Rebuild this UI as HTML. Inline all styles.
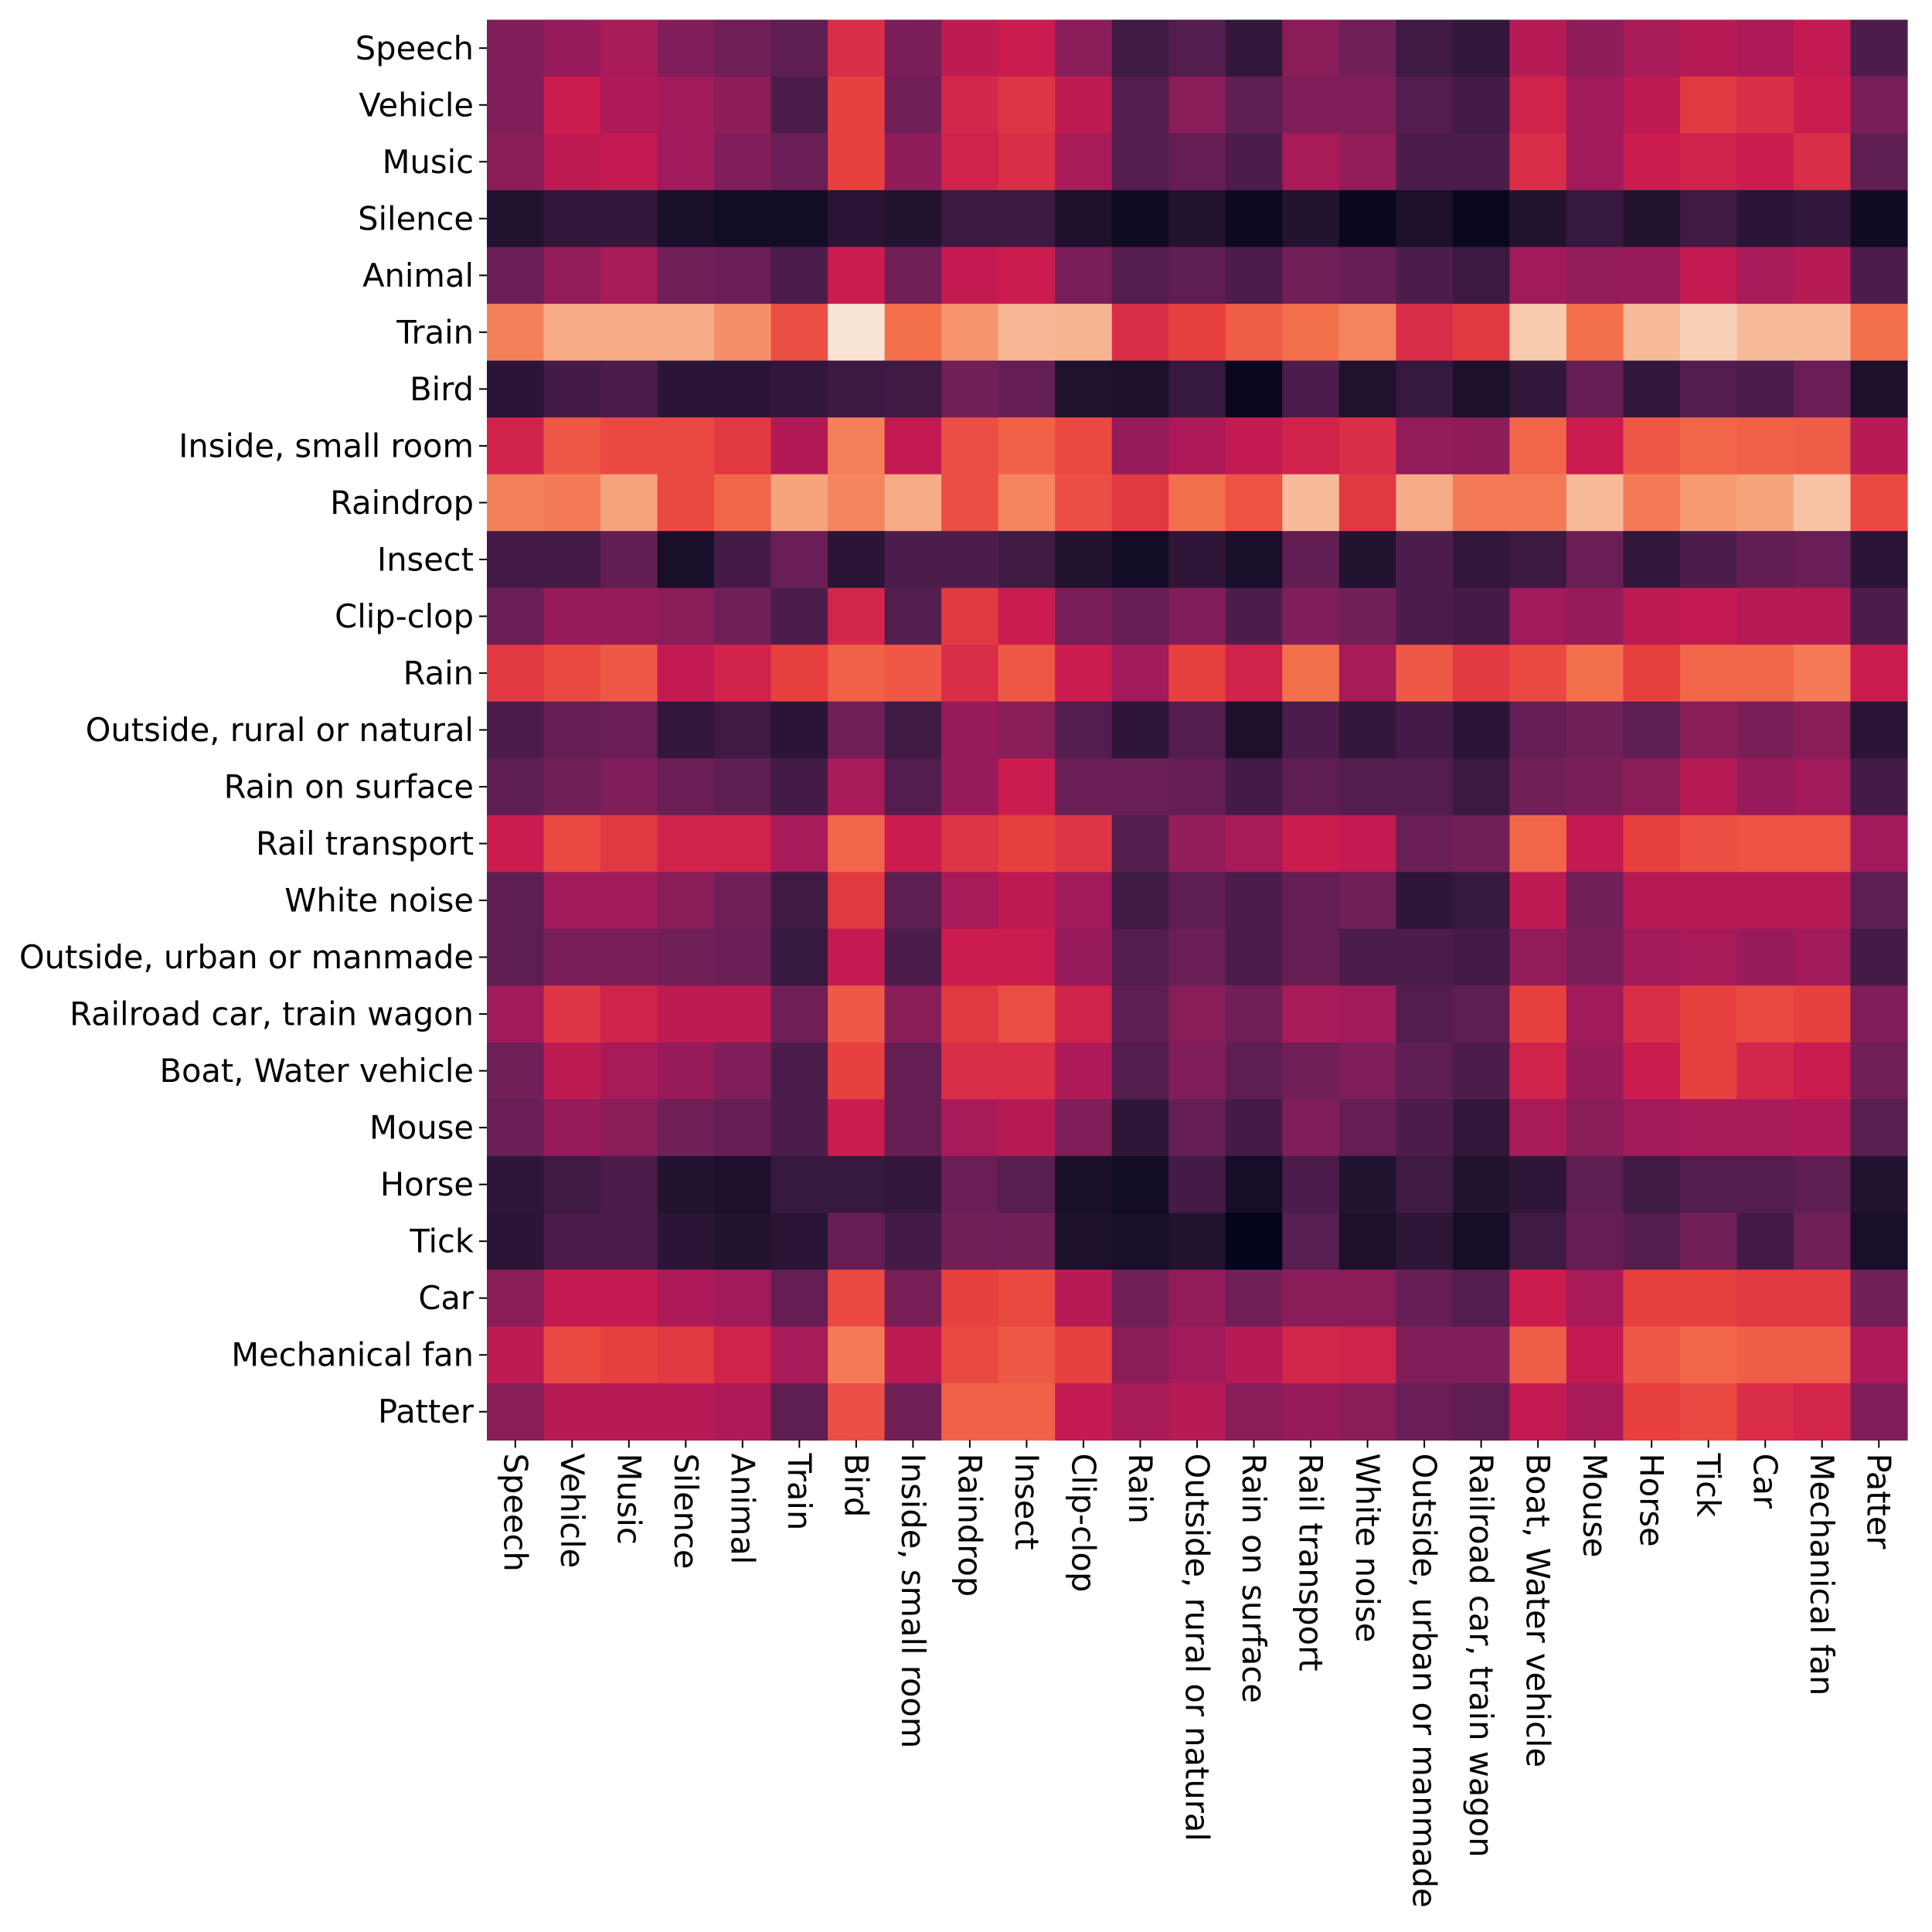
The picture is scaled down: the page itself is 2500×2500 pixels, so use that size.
<!DOCTYPE html>
<html><head><meta charset="utf-8"><style>
html,body{margin:0;padding:0;background:#fff;}
svg{display:block;}
text{font-family:"DejaVu Sans","Liberation Sans",sans-serif;font-size:41.6px;fill:#000;}
</style></head><body>
<svg id="chart" width="2500" height="2500" xmlns="http://www.w3.org/2000/svg">
<g id="cells"></g>
<g id="ylab"></g>
<g id="xlab"></g>
</svg>
<script>
const labels = ["Speech","Vehicle","Music","Silence","Animal","Train","Bird","Inside, small room","Raindrop","Insect","Clip-clop","Rain","Outside, rural or natural","Rain on surface","Rail transport","White noise","Outside, urban or manmade","Railroad car, train wagon","Boat, Water vehicle","Mouse","Horse","Tick","Car","Mechanical fan","Patter"];
const values = [
[.33,.38,.42,.33,.3,.25,.55,.32,.47,.5,.35,.17,.22,.14,.35,.3,.17,.14,.45,.36,.42,.45,.43,.48,.2],
[.33,.5,.43,.4,.36,.2,.6,.3,.53,.57,.47,.22,.35,.25,.33,.33,.22,.18,.52,.4,.47,.58,.55,.5,.32],
[.35,.47,.48,.4,.33,.28,.6,.36,.52,.55,.42,.22,.27,.2,.42,.37,.2,.2,.55,.4,.5,.52,.5,.55,.25],
[.1,.14,.14,.07,.05,.05,.12,.1,.16,.16,.08,.04,.1,.03,.1,.02,.08,.02,.1,.15,.1,.17,.12,.14,.04],
[.28,.37,.42,.3,.28,.2,.5,.3,.48,.5,.32,.22,.25,.2,.3,.27,.2,.16,.4,.37,.38,.48,.42,.45,.2],
[.73,.82,.82,.82,.76,.63,.98,.7,.77,.85,.84,.55,.6,.66,.7,.74,.55,.58,.9,.7,.86,.92,.86,.86,.7],
[.12,.18,.2,.12,.12,.14,.16,.17,.3,.27,.09,.08,.15,.02,.2,.09,.15,.08,.14,.27,.14,.22,.2,.28,.08],
[.52,.65,.62,.62,.58,.44,.73,.48,.63,.67,.62,.38,.43,.48,.52,.55,.37,.36,.68,.5,.65,.68,.67,.66,.45],
[.73,.72,.8,.62,.68,.8,.74,.82,.63,.74,.63,.58,.7,.64,.86,.58,.82,.72,.72,.86,.72,.78,.8,.88,.62],
[.18,.18,.26,.07,.18,.28,.12,.2,.2,.17,.1,.05,.13,.07,.26,.1,.2,.14,.16,.28,.14,.2,.26,.28,.12],
[.28,.38,.38,.35,.3,.2,.53,.22,.58,.5,.32,.27,.33,.2,.33,.3,.2,.18,.4,.38,.47,.48,.45,.45,.2],
[.58,.62,.65,.48,.52,.6,.67,.65,.55,.65,.5,.4,.6,.52,.7,.42,.65,.58,.62,.7,.6,.68,.68,.72,.5],
[.2,.27,.28,.14,.17,.12,.3,.17,.38,.35,.22,.13,.22,.08,.2,.14,.18,.12,.27,.3,.25,.35,.32,.35,.12],
[.25,.3,.33,.28,.25,.18,.42,.22,.38,.5,.28,.28,.27,.18,.25,.22,.22,.16,.3,.32,.35,.45,.38,.4,.18],
[.5,.62,.58,.52,.52,.42,.68,.5,.57,.6,.57,.22,.37,.42,.5,.48,.28,.3,.68,.48,.6,.63,.64,.64,.4],
[.25,.4,.4,.35,.3,.17,.58,.25,.42,.47,.4,.17,.25,.2,.27,.3,.13,.15,.47,.3,.45,.45,.45,.45,.25],
[.25,.32,.32,.3,.28,.15,.48,.2,.5,.5,.38,.22,.28,.2,.27,.2,.2,.18,.37,.32,.4,.42,.38,.4,.18],
[.4,.57,.52,.47,.47,.3,.65,.35,.58,.63,.52,.25,.35,.3,.42,.4,.22,.25,.6,.4,.55,.6,.62,.6,.33],
[.3,.47,.42,.38,.33,.2,.6,.27,.55,.55,.43,.22,.33,.25,.3,.33,.25,.2,.52,.38,.5,.6,.53,.5,.3],
[.28,.38,.35,.3,.27,.2,.5,.27,.42,.45,.33,.13,.27,.18,.33,.27,.2,.14,.42,.35,.4,.42,.42,.43,.23],
[.13,.17,.2,.1,.08,.15,.15,.14,.28,.23,.07,.05,.18,.06,.2,.1,.17,.1,.13,.25,.17,.22,.22,.25,.1],
[.12,.2,.2,.12,.1,.12,.27,.18,.3,.3,.08,.07,.1,0,.23,.08,.13,.06,.17,.27,.22,.3,.18,.3,.07],
[.35,.48,.48,.43,.4,.27,.62,.32,.6,.62,.45,.3,.37,.3,.35,.35,.27,.22,.5,.42,.6,.6,.58,.58,.3],
[.47,.62,.6,.58,.52,.42,.72,.47,.62,.65,.6,.35,.4,.45,.53,.52,.33,.33,.66,.48,.65,.68,.66,.66,.43],
[.35,.45,.45,.45,.43,.25,.63,.3,.67,.67,.48,.42,.45,.35,.38,.35,.28,.25,.48,.42,.6,.62,.55,.53,.33]
];
const stops=[[0,[3,5,26]],[.1,[34,19,49]],[.2,[76,29,75]],[.3,[112,31,87]],[.4,[161,26,91]],[.5,[203,27,79]],[.6,[232,63,63]],[.7,[243,112,76]],[.8,[246,164,124]],[.9,[248,203,174]],[1,[250,235,221]]];
function cmap(v){v=Math.max(0,Math.min(1,v));for(let i=1;i<stops.length;i++){if(v<=stops[i][0]){const a=stops[i-1],b=stops[i],t=(v-a[0])/(b[0]-a[0]);return 'rgb('+a[1].map((c,k)=>Math.round(c+(b[1][k]-c)*t)).join(',')+')';}}return 'rgb(250,235,221)';}
const L=630,T=25.5,W=1838,H=1838,n=labels.length;
const cw=W/n,ch=H/n;
const xs=i=>L+i*cw, ys=j=>T+j*ch;
const NS='http://www.w3.org/2000/svg';
const cg=document.getElementById('cells'),yg=document.getElementById('ylab'),xg=document.getElementById('xlab');
values.forEach((row,j)=>row.forEach((v,i)=>{
 const r=document.createElementNS(NS,'rect');
 r.setAttribute('x',xs(i));r.setAttribute('y',ys(j));
 r.setAttribute('width',cw+0.6);r.setAttribute('height',ch+0.6);
 r.setAttribute('fill',cmap(v));
 
 
 cg.appendChild(r);
}));
labels.forEach((lab,j)=>{
 const cy=ys(j)+ch/2;
 const tk=document.createElementNS(NS,'line');
 tk.setAttribute('x1',L-10);tk.setAttribute('x2',L);tk.setAttribute('y1',cy);tk.setAttribute('y2',cy);
 tk.setAttribute('stroke','#000');tk.setAttribute('stroke-width','2');
 
 
 yg.appendChild(tk);
 const t=document.createElementNS(NS,'text');
 t.setAttribute('x',L-17);t.setAttribute('y',cy);t.setAttribute('text-anchor','end');t.setAttribute('dominant-baseline','central');
 t.textContent=lab;
 
 
 yg.appendChild(t);
});
labels.forEach((lab,i)=>{
 const cx=xs(i)+cw/2;
 const tk=document.createElementNS(NS,'line');
 tk.setAttribute('x1',cx);tk.setAttribute('x2',cx);tk.setAttribute('y1',T+H);tk.setAttribute('y2',T+H+10);
 tk.setAttribute('stroke','#000');tk.setAttribute('stroke-width','2');
 
 
 xg.appendChild(tk);
 const t=document.createElementNS(NS,'text');
 t.setAttribute('transform','translate('+cx+','+(T+H+17)+') rotate(90)');
 t.setAttribute('dominant-baseline','central');
 t.textContent=lab;
 
 
 xg.appendChild(t);
});
</script>
</body></html>
